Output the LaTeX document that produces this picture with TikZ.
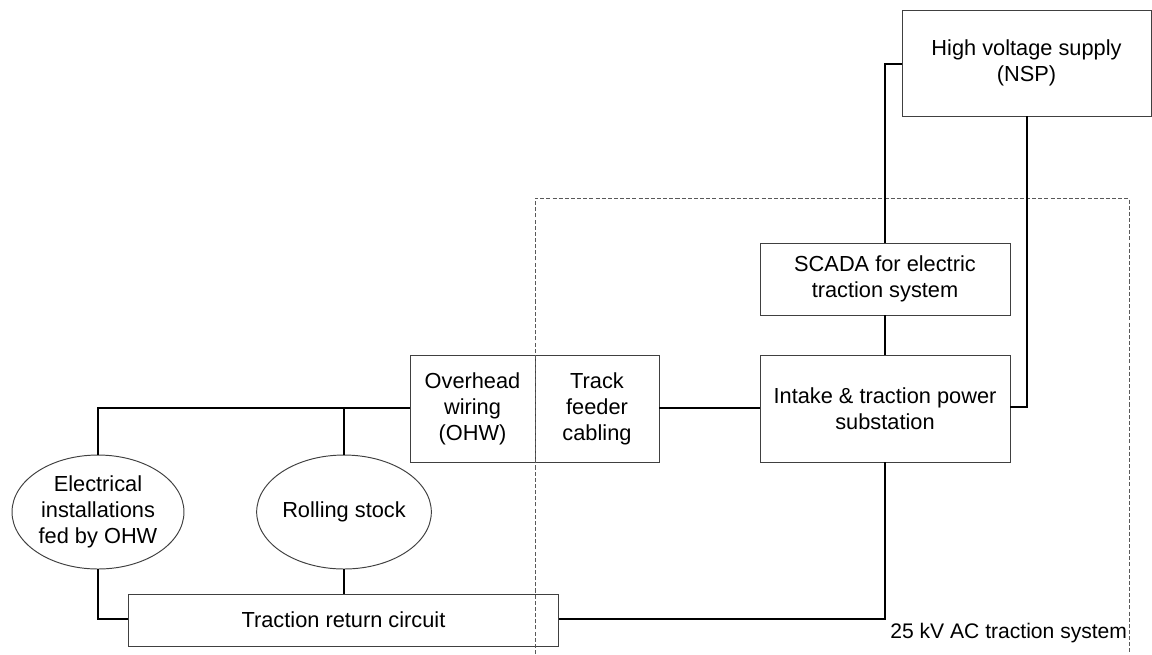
\documentclass[tikz,border=0pt]{standalone}
\usepackage{fontspec}
\setmainfont{Liberation Sans}
\usetikzlibrary{shapes.geometric}
\begin{document}
\begin{tikzpicture}[x=0.02cm,y=-0.02cm,
  txt/.style={font=\fontsize{12.4}{14.8}\selectfont},
  box/.style={txt, draw=black!75, line width=0.55pt, rectangle, inner sep=0pt, align=center},
  oval/.style={txt, draw=black!75, line width=0.55pt, ellipse, inner sep=0pt, align=center},
  wire/.style={draw=black, line width=0.75pt},
  boundary/.style={draw=black!65, line width=0.5pt, dash pattern=on 2.3pt off 1.2pt}]
\useasboundingbox (0,0) rectangle (1152,654);
% nodes
\node[box, minimum width=4.98cm, minimum height=2.12cm] (hv) at (1026.5,63) {High voltage supply\\(NSP)};
\node[box, minimum width=5.0cm, minimum height=1.44cm] (scada) at (885,279) {SCADA for electric\\traction system};
\node[box, minimum width=5.0cm, minimum height=2.14cm] (intake) at (885,408.5) {Intake \& traction power\\substation};
\node[box, minimum width=2.5cm, minimum height=2.14cm] (ohw) at (472.5,408.5) {Overhead\\wiring\\(OHW)};
\node[box, minimum width=2.48cm, minimum height=2.14cm] (track) at (597,408.5) {Track\\feeder\\cabling};
\node[oval, minimum width=3.44cm, minimum height=2.28cm] (eio) at (98,512) {Electrical\\installations\\fed by OHW};
\node[oval, minimum width=3.4cm, minimum height=2.28cm] (rs) at (344,512) {Rolling stock};
\node[box, minimum width=8.62cm, minimum height=1.04cm] (trc) at (343.5,620) {Traction return circuit};
\node[font=\fontsize{12}{14.5}\selectfont, anchor=base west, inner sep=0pt] (lbl) at (890,638) {25 kV AC traction system};
% boundary of the 25 kV AC traction system
\draw[boundary] (535,654) -- (535,198) -- (1129,198) -- (1129,654);
% connectors
\coordinate (hvturn) at (885,64);
\draw[wire] (hv.west |- hvturn) -- (hvturn) -- (scada.north);
\draw[wire] (scada.south) -- (intake.north);
\coordinate (hvdown) at (1027,407);
\draw[wire] (hv.south -| hvdown) -- (hvdown) -- (intake.east |- hvdown);
\coordinate (feed) at (659,408);
\draw[wire] (track.east |- feed) -- (intake.west |- feed);
\coordinate (busl) at (98,408);
\coordinate (busm) at (344,408);
\draw[wire] (eio.north) -- (busl) -- (ohw.west |- busl);
\draw[wire] (busm) -- (rs.north);
\coordinate (retl) at (98,619);
\draw[wire] (eio.south) -- (retl) -- (trc.west |- retl);
\draw[wire] (rs.south) -- (rs.south |- trc.north);
\coordinate (retr) at (885,619);
\draw[wire] (trc.east |- retr) -- (retr) -- (intake.south);
\end{tikzpicture}
\end{document}
